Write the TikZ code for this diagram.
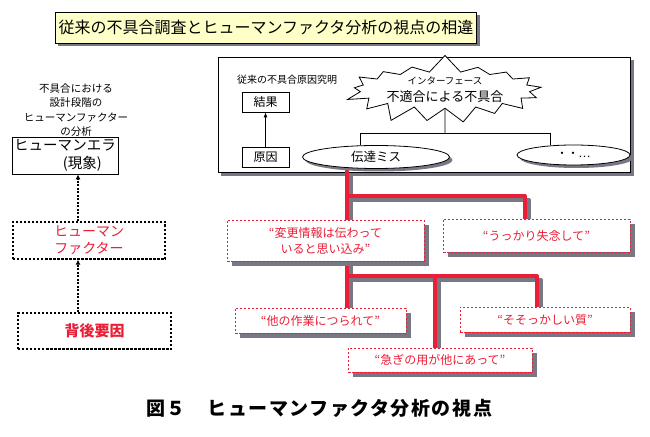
\documentclass[tikz,border=0pt]{standalone}
\usepackage{fontspec}
\setmainfont{Noto Sans CJK JP}
\usetikzlibrary{shapes.geometric,shapes.symbols,arrows.meta,calc,positioning}
\definecolor{hfred}{RGB}{235,30,55}
\definecolor{hfshade}{RGB}{120,120,132}
\definecolor{hfyellow}{RGB}{255,255,200}
\newcommand\fs[1]{\fontsize{#1bp}{1.25\dimexpr#1bp\relax}\selectfont}
\pgfdeclarelayer{back}
\pgfdeclarelayer{mid}
\pgfdeclarelayer{front}
\pgfsetlayers{back,main,mid,front}
\tikzset{
  titlebox/.style={draw, fill=hfyellow, line width=0.8bp},
  frame/.style={draw, fill=white, line width=1bp},
  smallbox/.style={draw, fill=white, line width=0.8bp, inner sep=0pt},
  oval/.style={ellipse, draw, fill=white, line width=0.8bp, inner sep=0pt},
  redbox/.style={draw=hfred, fill=white, line width=0.9bp, dash pattern=on 2.5bp off 1.5bp, inner sep=0pt, text=hfred, align=center, font=\fs{12}},
  dotbox/.style={draw, line width=1.3bp, dash pattern=on 2.5bp off 1.5bp, inner sep=0pt, align=center, text=hfred},
  dotlink/.style={line width=1.2bp, dash pattern=on 2bp off 1.5bp, -{Latex[length=5bp,width=5bp]}},
  redshade/.style={draw=hfshade, line width=4bp, line join=round},
  redlink/.style={draw=hfred, line width=4bp, line join=round}
}
% shadow of a box node: #1 node name, #2 offset
\newcommand\boxshadow[2]{%
  \fill[hfshade] ([xshift=#2,yshift=-#2]#1.south west) rectangle ([xshift=#2,yshift=-#2]#1.north east);}
\newcommand\redtree[2]{%
  \draw[#1] ($(r1 |- miss.south)+(#2)$) -- ($(r1 |- info.north)+(#2)$);
  \draw[#1] ($(r1)+(#2)$) -- ($(r2)+(#2)$) -- ($(r2 |- forgot.north)+(#2)$);
  \draw[#1] ($(s1 |- info.south)+(#2)$) -- ($(s1 |- drawn.north)+(#2)$);
  \draw[#1] ($(s1)+(#2)$) -- ($(s3)+(#2)$) -- ($(s3 |- careless.north)+(#2)$);
  \draw[#1] ($(s2)+(#2)$) -- ($(s2 |- hurry.north)+(#2)$);}
\begin{document}
\begin{tikzpicture}[x=1bp, y=-1bp]
  \useasboundingbox (0,0) rectangle (650,437);
  \node[titlebox, minimum width=412bp, minimum height=31bp, font=\fs{16}] (title) at (266,27.5)
    {従来の不具合調査とヒューマンファクタ分析の視点の相違};
  \node[frame, minimum width=412bp, minimum height=115bp] (frame) at (424,115.5) {};
  \node[font=\fs{10}] (oldlabel) at (287,80) {従来の不具合原因究明};
  \node[smallbox, minimum width=47bp, minimum height=20bp, font=\fs{12}] (effect) at (265.5,102) {結果};
  \node[smallbox, minimum width=47bp, minimum height=20bp, font=\fs{12}] (cause) at (265.5,157) {原因};
  \node[starburst, draw, fill=white, line width=0.8bp, starburst points=17,
    starburst point height=18bp, random starburst=7, minimum width=206bp,
    minimum height=66bp, inner sep=0pt, align=center,
    font=\fontsize{13bp}{16bp}\selectfont] (burst) at (445,90)
    {{\fs{9.5}インターフェース}\\[1bp]不適合による不具合};
  \node[align=center, font=\fontsize{10.5bp}{14.5bp}\selectfont] (note) at (76,110)
    {不具合における\\設計段階の\\ヒューマンファクター\\の分析};
  \node[draw, line width=0.8bp, minimum width=106bp, minimum height=37bp,
    inner sep=0pt, align=center, font=\fontsize{14.5bp}{18bp}\selectfont] (err) at (65,155.5)
    {ヒューマンエラ\\\hspace*{2.4em}(現象)};
  \node[dotbox, minimum width=152bp, minimum height=37bp, font=\fontsize{14bp}{17bp}\selectfont] (fac) at (89,240.5)
    {ヒューマン\\ファクター};
  \node[dotbox, minimum width=153bp, minimum height=36bp, font=\fs{15}\bfseries] (bg) at (94.5,331)
    {背後要因};
  \begin{pgfonlayer}{front}
    \node[oval, minimum width=147bp, minimum height=23bp, font=\fs{12.5}] (miss) at (376,157) {伝達ミス};
    \node[oval, minimum width=113bp, minimum height=20bp, font=\fs{11}] (other) at (573.5,155) {・・…};
    \node[redbox, minimum width=197bp, minimum height=41bp, font=\fontsize{12bp}{16bp}\selectfont] (info) at (325.5,240.5)
      {“変更情報は伝わって\\いると思い込み”};
    \node[redbox, minimum width=187bp, minimum height=33bp] (forgot) at (536.5,235.5)
      {“うっかり失念して”};
    \node[redbox, minimum width=171bp, minimum height=25bp] (drawn) at (320.5,320.5)
      {“他の作業につられて”};
    \node[redbox, minimum width=184bp, minimum height=24bp] (hurry) at (440,360)
      {“急ぎの用が他にあって”};
    \node[redbox, minimum width=170bp, minimum height=25bp] (careless) at (545,319.5)
      {“そそっかしい質”};
  \end{pgfonlayer}
  \node[font=\fs{19}\bfseries\addfontfeature{LetterSpace=8}] (caption) at (319,408)
    {図５　ヒューマンファクタ分析の視点};
  \begin{pgfonlayer}{back}
    \boxshadow{title}{3bp}
    \boxshadow{frame}{3bp}
  \end{pgfonlayer}
  \begin{pgfonlayer}{mid}
    \fill[hfshade] ([xshift=3bp,yshift=-3bp]miss.center) ellipse [x radius=73.5, y radius=11.5];
    \fill[hfshade] ([xshift=3bp,yshift=-3bp]other.center) ellipse [x radius=56.5, y radius=10];
    \foreach \b in {info,forgot,drawn,hurry,careless}
      \boxshadow{\b}{5bp};
  \end{pgfonlayer}
  \coordinate (bl) at (360,133);
  \coordinate (bm) at (445,133);
  \coordinate (br) at (550,133);
  \coordinate (lx) at (78,200);
  \coordinate (r1) at (347,196);
  \coordinate (r2) at (525,196);
  \coordinate (s1) at (347,276);
  \coordinate (s2) at (435,276);
  \coordinate (s3) at (537,276);
  \begin{scope}[line width=0.8bp]
    \draw[-{Latex[length=5bp,width=4bp]}] (cause) to (effect);
    \draw (burst.south) to (bm);
    \draw (bl) to (br);
    \draw (bl) to (bl |- miss.north);
    \draw (br) to (br |- other.north);
  \end{scope}
  \begin{scope}[dotlink]
    \draw (fac.north -| lx) to (err.south -| lx);
    \draw (bg.north -| lx) to (fac.south -| lx);
  \end{scope}
  \redtree{redshade}{4,4}
  \redtree{redlink}{0,0}
\end{tikzpicture}
\end{document}
